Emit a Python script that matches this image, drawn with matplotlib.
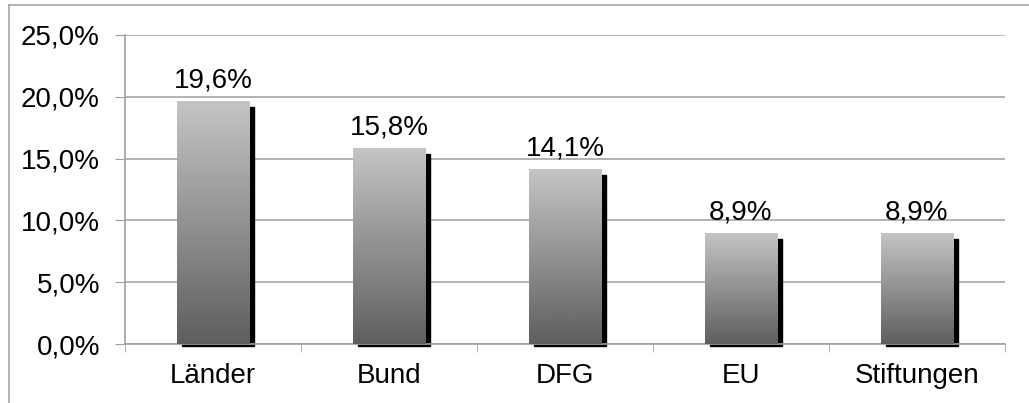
import matplotlib
matplotlib.use("Agg")
import matplotlib.pyplot as plt
import numpy as np
from matplotlib.lines import Line2D
from matplotlib.ticker import FuncFormatter

plt.rcParams["font.family"] = ["Liberation Sans", "DejaVu Sans"]

categories = ["Länder", "Bund", "DFG", "EU", "Stiftungen"]
values = [19.6, 15.8, 14.1, 8.9, 8.9]
yticks = [0, 5, 10, 15, 20, 25]

fig = plt.figure(figsize=(10.29, 4.03), dpi=100)
ax = fig.add_axes([125 / 1029, 1 - 344 / 403, 880 / 1029, 309 / 403])

# äußerer Rahmen (links + oben)
fig.add_artist(Line2D([9 / 1029, 9 / 1029], [0, 1 - 5 / 403], transform=fig.transFigure,
                      color="#a6a6a6", lw=1.2))
fig.add_artist(Line2D([9 / 1029, 1], [1 - 5 / 403, 1 - 5 / 403], transform=fig.transFigure,
                      color="#a6a6a6", lw=1.2))

x = np.arange(len(categories))
w = 0.41
grad = np.linspace(0.37, 0.77, 256)[:, None]   # unten dunkel, oben hell
px = 5 / 176                                     # 5 px Schatten-Versatz

for xi, v in zip(x, values):
    # Schatten
    ax.add_patch(plt.Rectangle((xi - w / 2 + px, -0.16), w, v - 0.4 + 0.16,
                               color="black", zorder=2, clip_on=False))
    ax.imshow(grad, cmap="gray", vmin=0, vmax=1, aspect="auto", origin="lower",
              extent=(xi - w / 2, xi + w / 2, 0, v), zorder=3, interpolation="bilinear")
    ax.annotate(f"{v:.1f}%".replace(".", ","), (xi, v), xytext=(0, 6),
                textcoords="offset points", ha="center", va="bottom", fontsize=20)

ax.set_xlim(-0.5, len(categories) - 0.5)
ax.set_ylim(0, 25)
ax.set_yticks(yticks)
ax.yaxis.set_major_formatter(FuncFormatter(lambda v, p: f"{v:.1f}%".replace(".", ",")))
ax.set_xticks(x)
ax.set_xticklabels(categories)
ax.set_xticks(np.arange(-0.5, len(categories), 1), minor=True)
ax.tick_params(axis="x", which="major", length=0, pad=14, labelsize=20)
ax.tick_params(axis="x", which="minor", length=6, color="#a0a0a0", direction="out")
ax.tick_params(axis="y", length=7, color="#a0a0a0", labelsize=20, pad=11)

ax.grid(axis="y", color="#a6a6a6", lw=1.2)
ax.set_axisbelow(True)
for s in ["top", "right"]:
    ax.spines[s].set_visible(False)
for s in ["left", "bottom"]:
    ax.spines[s].set_color("#a0a0a0")
    ax.spines[s].set_linewidth(1.2)

plt.savefig("out.png", dpi=100)
